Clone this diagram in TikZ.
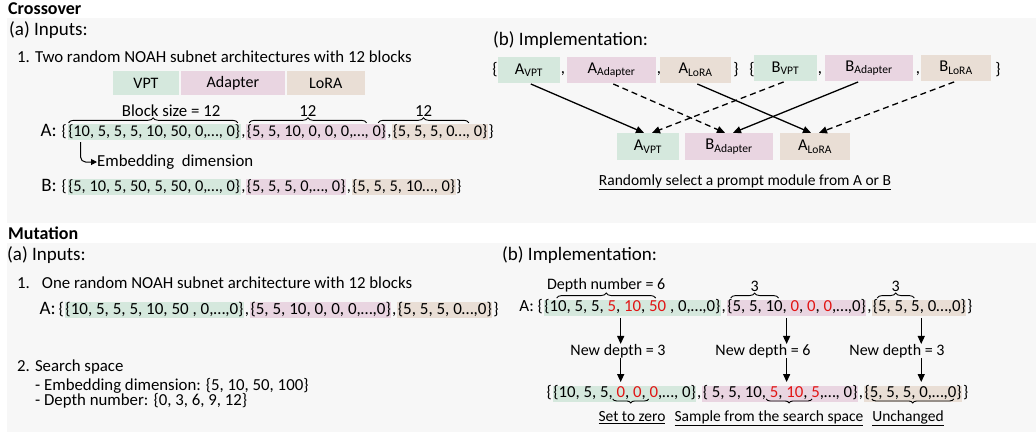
\documentclass[tikz,border=0pt]{standalone}
\usepackage{fontspec}
\setmainfont{Carlito}
\usetikzlibrary{positioning,calc,arrows.meta,decorations.pathreplacing}

\definecolor{vptgreen}{RGB}{213,232,221}
\definecolor{adapterpink}{RGB}{233,213,225}
\definecolor{lorabeige}{RGB}{233,222,213}
\definecolor{panelgray}{RGB}{247,247,247}
\definecolor{changered}{RGB}{225,20,20}

\newcommand{\chg}[1]{\textcolor{changered}{#1}}

\tikzset{
  sectitle/.style={font=\bfseries\fontsize{18}{20}\selectfont, inner sep=0pt, anchor=west},
  subhead/.style={font=\fontsize{19}{22}\selectfont, inner sep=0pt, anchor=west},
  txt/.style={font=\fontsize{16.8}{20}\selectfont, inner sep=0pt},
  small/.style={font=\fontsize{15.5}{18}\selectfont, inner sep=0pt},
  seg/.style={font=\fontsize{17}{20}\selectfont, inner xsep=0.5pt, inner ysep=0.5pt, text height=11.5pt, text depth=3.5pt},
  cseg/.style={seg, font=\fontsize{16.4}{19}\selectfont},
  mseg/.style={seg, font=\fontsize{16.8}{19}\selectfont, text height=11pt, text depth=3.5pt},
  rowlab/.style={font=\fontsize{19}{22}\selectfont, inner sep=0pt, anchor=base east},
  lgbox/.style={font=\fontsize{16}{19}\selectfont, minimum height=24pt, inner sep=0pt},
  module/.style={font=\fontsize{16.5}{19}\selectfont, minimum height=26pt, inner sep=0pt},
  brc/.style={decorate, decoration={brace, amplitude=5pt}, line width=0.9pt},
  mbrc/.style={decorate, decoration={brace, amplitude=4pt, mirror}, line width=0.9pt},
  solidpick/.style={-{Triangle[length=8pt,width=7pt]}, line width=1.3pt, shorten <=2pt},
  dashpick/.style={solidpick, dash pattern=on 6pt off 4pt},
  downarr/.style={-{Triangle[length=8pt,width=7pt]}, line width=1.3pt},
}

\begin{document}
\begin{tikzpicture}[x=1pt,y=-1pt]
\useasboundingbox (0,0) rectangle (1036,432);

% Panels
\fill[panelgray] (7,18) rectangle (1036,223);
\fill[panelgray] (7,243) rectangle (1036,432);

% ---------------- Crossover ----------------
\node[sectitle] (ctitle) at (8,9) {Crossover};
\node[subhead] (cin) at (9,30) {(a) Inputs:};
\node[txt,anchor=west] (ctwo) at (17,57) {1. Two random NOAH subnet architectures with 12 blocks};

% Module legend
\node[lgbox,fill=vptgreen,minimum width=66pt] (lvpt) at (146,83) {VPT};
\node[lgbox,fill=adapterpink,minimum width=104pt,right=1.5pt of lvpt] (ladp) {Adapter};
\node[lgbox,fill=lorabeige,minimum width=78pt,right=1.5pt of ladp] (llora) {LoRA};

% Subnet A
\node[cseg,anchor=west] (ra0) at (61,132) {\{};
\node[cseg,fill=vptgreen,right=0pt of ra0] (ra1) {\{10, 5, 5, 5, 10, 50, 0,…, 0\}};
\node[cseg,right=0pt of ra1] (ra2) {,};
\node[cseg,fill=adapterpink,right=0pt of ra2] (ra3) {\{5, 5, 10, 0, 0, 0,…, 0\}};
\node[cseg,right=0pt of ra3] (ra4) {,};
\node[cseg,fill=lorabeige,right=0pt of ra4] (ra5) {\{5, 5, 5, 0…, 0\}};
\node[cseg,right=0pt of ra5] (ra6) {\}};
\node[rowlab] (ra) at ($(ra0.base west)+(-4,0)$) {A:};

% Block sizes
\draw[brc] ($(ra1.north west)+(1,-1)$) -- ($(ra1.north east)+(-3,-1)$)
  node[midway,above=6pt,xshift=18pt,txt] (bs1) {Block size = 12};
\draw[brc] ($(ra3.north west)+(3,-1)$) -- ($(ra3.north east)+(-20,-1)$)
  node[midway,above=6pt,txt] (bs2) {12};
\draw[brc] ($(ra5.north west)+(-14,-1)$) -- ($(ra5.north east)+(-19,-1)$)
  node[midway,above=6pt,txt] (bs3) {12};

% Embedding dimension hint
\node[txt,anchor=west] (emb) at (97,162) {Embedding\ \ dimension};
\coordinate (hk) at ($(ra1.south west)+(13,2)$);
\draw[-{Triangle[length=6pt,width=6pt]},line width=1pt,rounded corners=5pt] (hk) |- (emb.west);

% Subnet B
\node[cseg,anchor=west] (rb0) at (61,187) {\{};
\node[cseg,fill=vptgreen,right=0pt of rb0] (rb1) {\{5, 10, 5, 50, 5, 50, 0,…, 0\}};
\node[cseg,right=0pt of rb1] (rb2) {,};
\node[cseg,fill=adapterpink,right=0pt of rb2] (rb3) {\{5, 5, 5, 0,…, 0\}};
\node[cseg,right=0pt of rb3] (rb4) {,};
\node[cseg,fill=lorabeige,right=0pt of rb4] (rb5) {\{5, 5, 5, 10…, 0\}};
\node[cseg,right=0pt of rb5] (rb6) {\}};
\node[rowlab] (rb) at ($(rb0.base west)+(-4,0)$) {B:};

% Implementation
\node[subhead] (cimp) at (493,40) {(b) Implementation:};

\node[txt] (pa0) at (495,70) {\{};
\node[module,fill=vptgreen,minimum width=62pt] (avpt) at (529,70) {A\textsubscript{VPT}};
\node[txt] (pa1) at (563,74) {,};
\node[module,fill=adapterpink,minimum width=89pt] (aadp) at (611.5,70) {A\textsubscript{Adapter}};
\node[txt] (pa2) at (659,74) {,};
\node[module,fill=lorabeige,minimum width=71pt] (alora) at (695.5,70) {A\textsubscript{LoRA}};
\node[txt] (pa3) at (736,70) {\}};

\node[txt] (pb0) at (752,70) {\{};
\node[module,fill=vptgreen,minimum width=63pt] (bvpt) at (785.5,68) {B\textsubscript{VPT}};
\node[txt] (pb1) at (820,74) {,};
\node[module,fill=adapterpink,minimum width=88pt] (badp) at (869,68) {B\textsubscript{Adapter}};
\node[txt] (pb2) at (918,74) {,};
\node[module,fill=lorabeige,minimum width=70pt] (blora) at (956,68) {B\textsubscript{LoRA}};
\node[txt] (pb3) at (998,70) {\}};

% Child
\node[module,fill=vptgreen,minimum width=62pt,minimum height=27pt] (cvpt) at (648,146.5) {A\textsubscript{VPT}};
\node[module,fill=adapterpink,minimum width=88pt,minimum height=27pt] (cadp) at (729,146.5) {B\textsubscript{Adapter}};
\node[module,fill=lorabeige,minimum width=70pt,minimum height=27pt] (clora) at (815,146.5) {A\textsubscript{LoRA}};

\draw[solidpick] (avpt.south) -- ($(cvpt.north)+(-4,0)$);
\draw[dashpick] (bvpt.south) -- ($(cvpt.north)+(4,0)$);
\draw[dashpick] (aadp.south) -- ($(cadp.north)+(-4,0)$);
\draw[solidpick] ($(badp.south)+(-9,0)$) -- ($(cadp.north)+(4,0)$);
\draw[solidpick] (alora.south) -- ($(clora.north)+(-4,0)$);
\draw[dashpick] (blora.south) -- ($(clora.north)+(4,0)$);

\node[small] (rnd) at (745,182) {\underline{Randomly select a prompt module from A or B}};

% ---------------- Mutation ----------------
\node[sectitle] (mtitle) at (8,233) {Mutation};
\node[subhead] (min) at (7,255) {(a) Inputs:};
\node[txt,anchor=west] (mone) at (17,283) {1.\hspace{12pt}One random NOAH subnet architecture with 12 blocks};

\node[seg,anchor=west] (ma0) at (58,310) {\{};
\node[seg,fill=vptgreen,right=0pt of ma0] (ma1) {\{10, 5, 5, 5, 10, 50 , 0,…,0\}};
\node[seg,right=0pt of ma1] (ma2) {,};
\node[seg,fill=adapterpink,right=0pt of ma2] (ma3) {\{5, 5, 10, 0, 0, 0,…,0\}};
\node[seg,right=0pt of ma3] (ma4) {,};
\node[seg,fill=lorabeige,right=0pt of ma4] (ma5) {\{5, 5, 5, 0…,0\}};
\node[seg,right=0pt of ma5] (ma6) {\}};
\node[rowlab] (ma) at ($(ma0.base west)+(-2,0)$) {A:};

\node[txt,anchor=west] (mtwo) at (17,367) {2. Search space};
\node[txt,anchor=west] (memb) at (35,386) {- Embedding dimension: \{5, 10, 50, 100\}};
\node[txt,anchor=west] (mdep) at (35,401) {- Depth number: \{0, 3, 6, 9, 12\}};

% Implementation
\node[subhead] (mimp) at (502,255) {(b) Implementation:};

\node[mseg,anchor=west] (mb0) at (537,308) {\{};
\node[mseg,fill=vptgreen,right=0pt of mb0] (mb1) {\{10, 5, 5, \chg{5}, \chg{10}, \chg{50} , 0,…,0\}};
\node[mseg,right=0pt of mb1] (mb2) {,};
\node[mseg,fill=adapterpink,right=0pt of mb2] (mb3) {\{5, 5, 10, \chg{0}, \chg{0}, \chg{0},…,0\}};
\node[mseg,right=0pt of mb3] (mb4) {,};
\node[mseg,fill=lorabeige,right=0pt of mb4] (mb5) {\{5, 5, 5, 0…,0\}};
\node[mseg,right=0pt of mb5] (mb6) {\}};
\node[rowlab,font=\fontsize{17}{20}\selectfont] (mba) at ($(mb0.base west)+(-3,0)$) {A:};

\draw[brc] ($(mb1.north west)+(13,-2)$) -- ($(mb1.north west)+(112,-2)$)
  node[midway,above=6pt,small,font=\fontsize{16}{19}\selectfont] (dn1) {Depth number = 6};
\draw[brc] ($(mb3.north west)+(4,-2)$) -- ($(mb3.north west)+(52,-2)$)
  node[midway,above=6pt,small,font=\fontsize{16}{19}\selectfont] (dn2) {3};
\draw[brc] ($(mb5.north west)+(5,-2)$) -- ($(mb5.north west)+(42,-2)$)
  node[midway,above=6pt,small,font=\fontsize{16}{19}\selectfont] (dn3) {3};

\node[small,font=\fontsize{16}{19}\selectfont] (nd1) at (618,351) {New depth = 3};
\node[small,font=\fontsize{16}{19}\selectfont] (nd2) at (763,351) {New depth = 6};
\node[small,font=\fontsize{16}{19}\selectfont] (nd3) at (897,351) {New depth = 3};

\node[mseg,anchor=west] (nb0) at (546,394) {\{};
\node[mseg,fill=vptgreen,right=0pt of nb0] (nb1) {\{10, 5, 5, \chg{0}, \chg{0}, \chg{0},…, 0\}};
\node[mseg,right=0pt of nb1] (nb2) {,\hspace{3pt}};
\node[mseg,fill=adapterpink,right=0pt of nb2] (nb3) {\{ 5, 5, 10, \chg{5}, \chg{10}, \chg{5},…, 0\}};
\node[mseg,right=0pt of nb3] (nb4) {,};
\node[mseg,fill=lorabeige,right=0pt of nb4] (nb5) {\{5, 5, 5, 0,…,0\}};
\node[mseg,right=0pt of nb5] (nb6) {\}};

\coordinate (s1) at ($(mb1.west)+(77,10)$);
\coordinate (s2) at ($(mb3.west)+(60,10)$);
\coordinate (s3) at ($(mb5.west)+(49,10)$);
\draw[downarr] (s1) -- (s1 |- nd1.north);
\draw[downarr] (s2) -- (s2 |- nd2.north);
\draw[downarr] (s3) -- (s3 |- nd3.north);
\draw[downarr] (s1 |- nd1.south) -- ($(s1 |- nb1.north)+(0,-4)$);
\draw[downarr] (s2 |- nd2.south) -- ($(s2 |- nb3.north)+(0,-4)$);
\draw[downarr] (s3 |- nd3.south) -- ($(s3 |- nb5.north)+(0,-4)$);

\draw[mbrc] ($(nb1.south west)+(60,-3)$) -- ($(nb1.south west)+(96,-3)$);
\draw[mbrc] ($(nb3.south west)+(64,-3)$) -- ($(nb3.south west)+(110,-3)$);
\draw[mbrc] ($(nb5.south west)+(8,-3)$) -- ($(nb5.south west)+(90,-3)$);

\node[small] (zero) at (632,418) {\underline{Set to zero}};
\node[small] (samp) at (769,418) {\underline{Sample from the search space}};
\node[small] (keep) at (908,418) {\underline{Unchanged}};

\end{tikzpicture}
\end{document}
